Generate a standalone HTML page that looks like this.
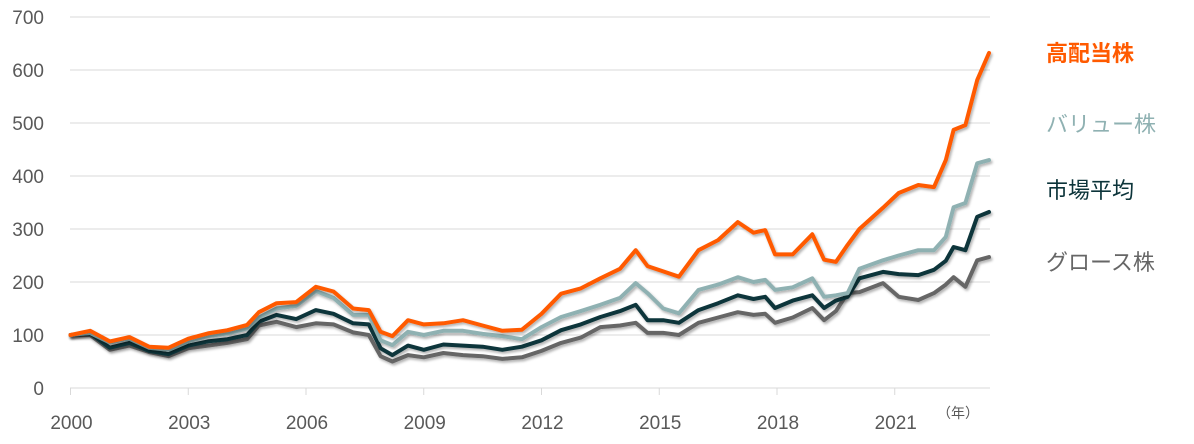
<!DOCTYPE html>
<html><head><meta charset="utf-8"><style>
body{margin:0;background:#fff;}
svg{display:block;font-family:"Liberation Sans","Noto Sans CJK JP",sans-serif;}
</style></head><body>
<svg id="chart" width="1194" height="444" viewBox="0 0 1194 444" xmlns="http://www.w3.org/2000/svg">
<defs><filter id="sh" x="-5%" y="-5%" width="110%" height="120%"><feDropShadow dx="1.5" dy="2" stdDeviation="1.2" flood-color="#000" flood-opacity="0.3"/></filter></defs>
<g id="grid"></g><g id="axes"></g><g id="series"></g><g id="legend"></g>
</svg>
<script>
const years=[2000,2000.5,2001,2001.5,2002,2002.5,2003,2003.5,2004,2004.5,2004.8,2005.25,2005.75,2006.25,2006.7,2007.2,2007.6,2007.9,2008.2,2008.6,2009,2009.5,2010,2010.5,2011,2011.5,2012,2012.5,2013,2013.5,2014,2014.4,2014.7,2015.1,2015.5,2016,2016.5,2017,2017.4,2017.7,2017.95,2018.4,2018.9,2019.2,2019.5,2019.8,2020.1,2020.7,2021.1,2021.6,2022,2022.3,2022.5,2022.8,2023.1,2023.4];
const highDividend=[100,108,88,96,78,76,93,103,109,119,143,160,162,191,182,150,147,106,98,128,120,122,128,118,108,110,140,178,188,207,225,260,230,220,210,260,279,313,293,298,252,252,290,242,238,270,300,340,368,383,379,430,487,496,581,632];
const valueStocks=[100,104,86,93,76,72,88,98,103,112,133,150,155,183,170,138,138,90,81,106,100,108,108,102,98,92,115,134,145,157,170,198,179,150,141,185,195,209,200,204,185,190,207,172,175,179,225,241,250,260,260,285,341,349,424,430];
const marketAvg=[100,103,76,85,70,64,80,88,92,100,125,138,130,147,140,122,120,75,62,80,72,82,80,78,72,78,90,109,120,134,145,157,128,128,123,147,160,175,168,172,151,165,175,151,165,172,207,219,215,213,223,240,266,260,323,332];
const growthStocks=[100,100,72,80,68,60,75,80,85,92,118,125,115,122,120,105,100,60,50,62,58,66,62,60,55,58,70,85,95,115,118,123,104,104,100,123,133,143,138,140,123,133,151,128,145,179,181,198,172,166,179,195,209,191,241,247];
const yTicks=[0,100,200,300,400,500,600,700];
const xTicks=[2000,2003,2006,2009,2012,2015,2018,2021];
const NS="http://www.w3.org/2000/svg";
const X=y=>70.5+(y-2000)*39.25;
const Y=v=>388-v*0.53;
function mk(tag,attrs,parent){const e=document.createElementNS(NS,tag);for(const k in attrs)e.setAttribute(k,attrs[k]);parent.appendChild(e);return e;}
const grid=document.getElementById('grid'),axes=document.getElementById('axes'),ser=document.getElementById('series'),leg=document.getElementById('legend');
yTicks.forEach(v=>{
  if(v>0){const l=mk('line',{x1:70,x2:990,y1:Y(v),y2:Y(v),stroke:'#d9d9d9','stroke-width':1},grid);
  
  }
  const t=mk('text',{x:44,y:Y(v)+7,'text-anchor':'end','font-size':19,fill:'#595959'},axes);t.textContent=v;
  
  
});
const base=mk('line',{x1:70,x2:990,y1:388,y2:388,stroke:'#d9d9d9','stroke-width':1},axes);


xTicks.forEach(yr=>{
  const tk=mk('line',{x1:X(yr),x2:X(yr),y1:388,y2:395,stroke:'#d9d9d9','stroke-width':1},axes);
  
  
  const t=mk('text',{x:X(yr)+1,y:429,'text-anchor':'middle','font-size':19,fill:'#595959'},axes);t.textContent=yr;
  
  
});
const unit=mk('text',{x:958,y:418,'text-anchor':'middle','font-size':14,fill:'#595959'},axes);unit.textContent='（年）';


const series=[
 {d:growthStocks,c:'#666666',n:'グロース株',ly:262,name:'growth-stocks',bold:false},
 {d:marketAvg,c:'#0c343a',n:'市場平均',ly:190,name:'market-average',bold:false},
 {d:valueStocks,c:'#8fb1b2',n:'バリュー株',ly:124,name:'value-stocks',bold:false},
 {d:highDividend,c:'#ff5a00',n:'高配当株',ly:53,name:'high-dividend-stocks',bold:true}
];
series.forEach(s=>{
  const pts=s.d.map((v,i)=>X(years[i]).toFixed(1)+','+Y(v).toFixed(1)).join(' ');
  const p=mk('polyline',{points:pts,fill:'none',stroke:s.c,'stroke-width':4,'stroke-linejoin':'round','stroke-linecap':'round',filter:'url(#sh)'},ser);
  
  
  const g=mk('g',{},leg);
  
  
  mk('line',{x1:1014,x2:1043,y1:s.ly,y2:s.ly,stroke:s.c,'stroke-width':4.5,filter:'url(#sh)'},g);
  const t=mk('text',{x:1046,y:s.ly+8,'font-size':22,fill:s.c,'font-weight':s.bold?'bold':'normal'},g);t.textContent=s.n;
});
</script>
</body></html>
